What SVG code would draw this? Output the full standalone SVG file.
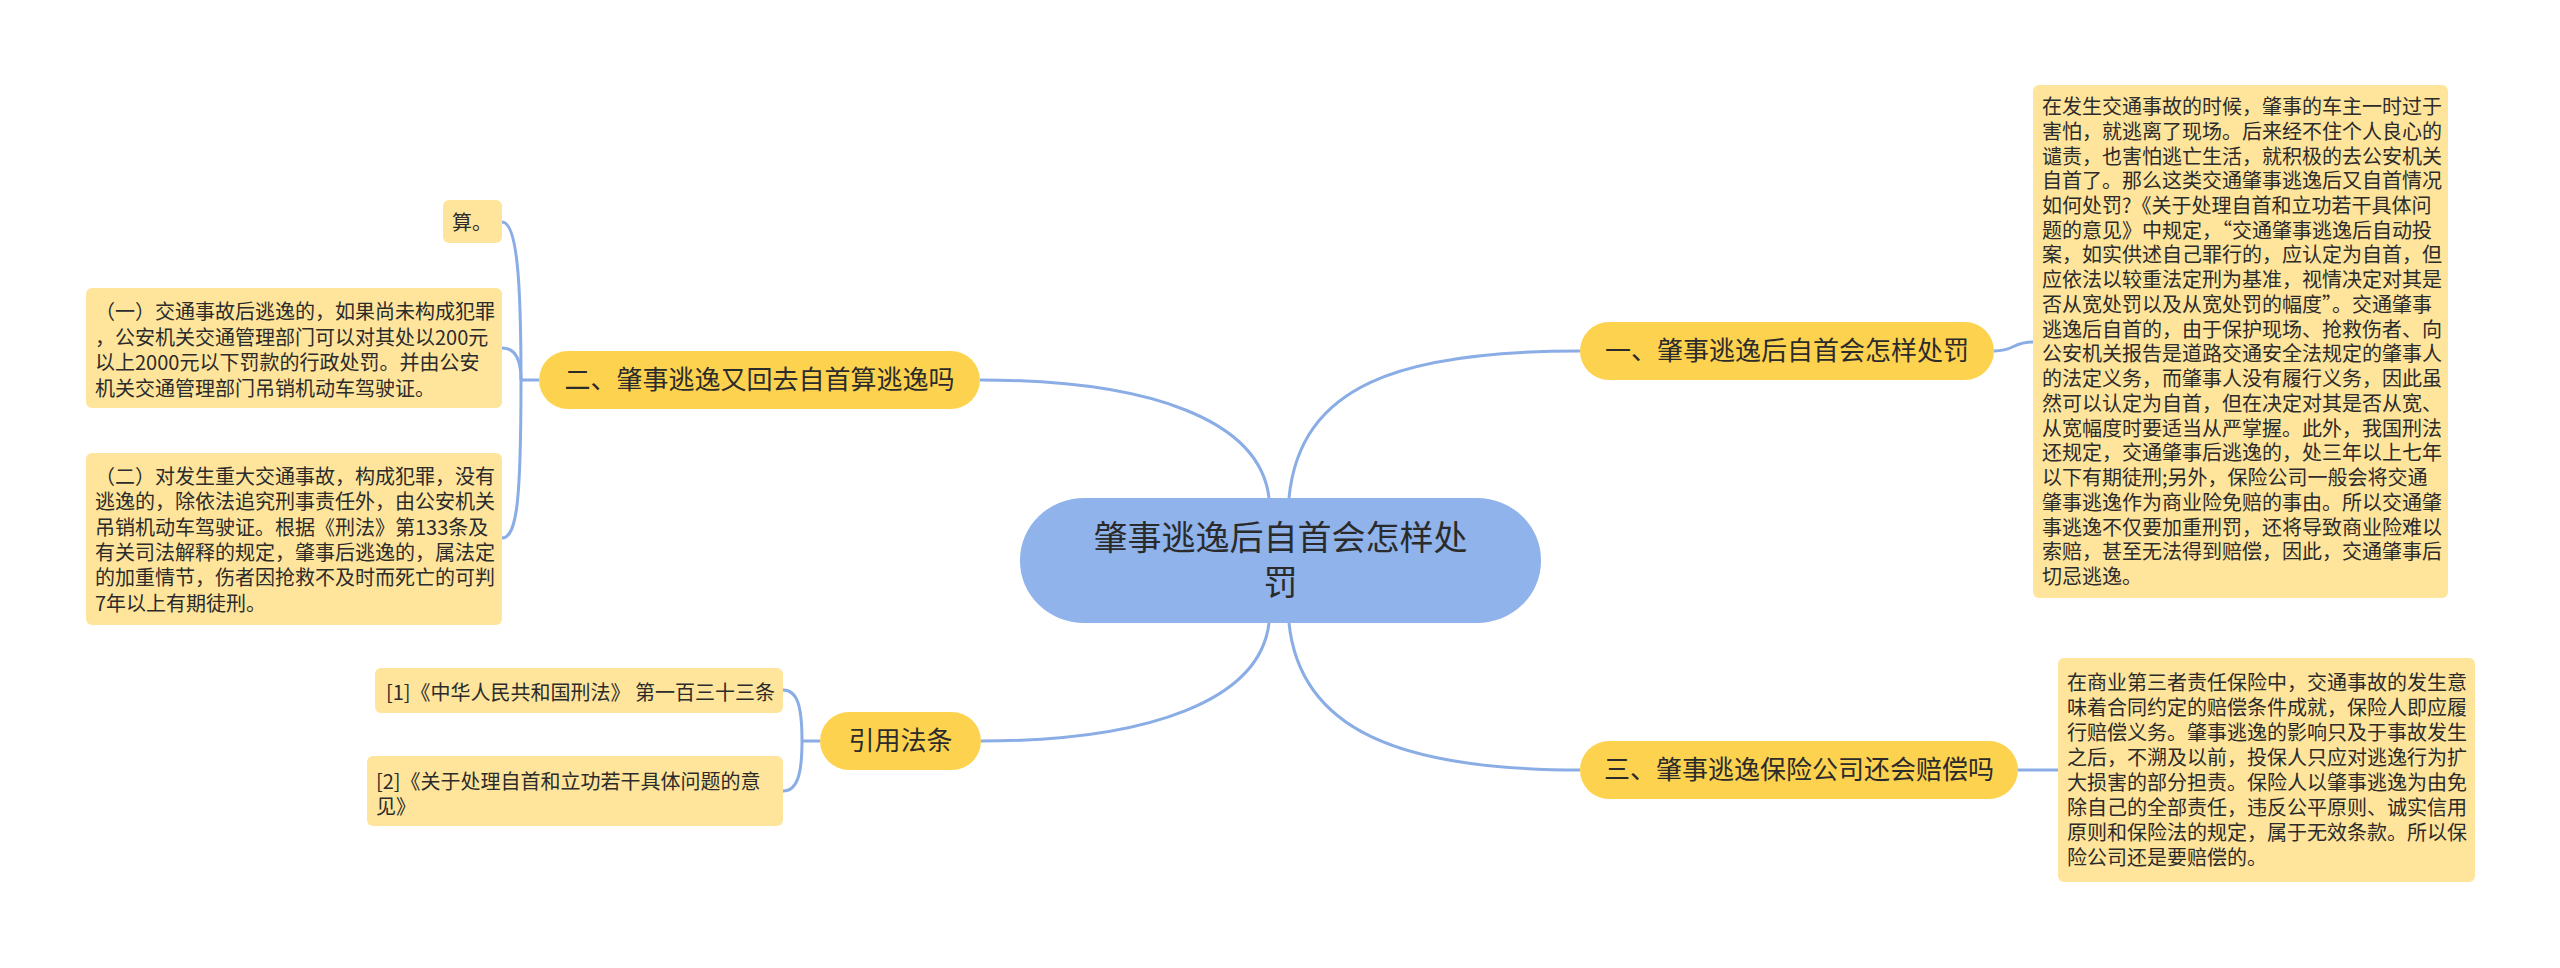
<svg xmlns="http://www.w3.org/2000/svg" width="2560" height="968" viewBox="0 0 2560 968">
<style>
text{font-family:"Noto Sans CJK SC","Noto Sans CJK TC",sans-serif;fill:#2b2b2b}
.c{stroke:#8aade6;stroke-width:3;fill:none}
.root{fill:#8fb3ea}
.l1{fill:#fdd24f}
.box{fill:#ffe59c}
.t34{font-size:34px}
.t26{font-size:26px}
.t20{font-size:20px}
</style>
<rect width="2560" height="968" fill="#ffffff"/>
<g id="connectors">
<path class="c" d="M1289,498 C1300,385 1400,351 1580,351"/>
<path class="c" d="M1269,498 C1260,420 1150,380 980,380"/>
<path class="c" d="M1269,623 C1260,700 1150,741 981,741"/>
<path class="c" d="M1289,623 C1300,730 1400,770 1580,770"/>
<path class="c" d="M1994,351 C2015,351 2012,342 2033,342"/>
<path class="c" d="M2018,770 L2058,770"/>
<path class="c" d="M539,380 L521,380"/>
<path class="c" d="M521,380 C521,280 517,222 502,222"/>
<path class="c" d="M521,380 C521,360 516,348 502,348"/>
<path class="c" d="M521,380 C521,500 517,538 502,538"/>
<path class="c" d="M820,741 L802,741"/>
<path class="c" d="M802,741 C802,705 797,690 783,690"/>
<path class="c" d="M802,741 C802,775 797,791 783,791"/>
</g>
<g id="root">
<rect class="root" x="1020" y="498" width="521" height="125" rx="64" ry="62"/>
<text class="t34" x="1280.5" y="550" text-anchor="middle">肇事逃逸后自首会怎样处</text>
<text class="t34" x="1280.5" y="595" text-anchor="middle">罚</text>
</g>
<g id="n1">
<rect class="l1" x="1580" y="322" width="414" height="58" rx="29"/>
<text class="t26" x="1787" y="360" text-anchor="middle">一、肇事逃逸后自首会怎样处罚</text>
</g>
<g id="n1-detail">
<rect class="box" x="2033" y="85" width="415" height="513" rx="6"/>
<text class="t20">
<tspan x="2042" y="114">在发生交通事故的时候，肇事的车主一时过于</tspan>
<tspan x="2042" y="138.7">害怕，就逃离了现场。后来经不住个人良心的</tspan>
<tspan x="2042" y="163.5">谴责，也害怕逃亡生活，就积极的去公安机关</tspan>
<tspan x="2042" y="188.2">自首了。那么这类交通肇事逃逸后又自首情况</tspan>
<tspan x="2042" y="213">如何处罚?《关于处理自首和立功若干具体问</tspan>
<tspan x="2042" y="237.7">题的意见》中规定，“交通肇事逃逸后自动投</tspan>
<tspan x="2042" y="262.4">案，如实供述自己罪行的，应认定为自首，但</tspan>
<tspan x="2042" y="287.2">应依法以较重法定刑为基准，视情决定对其是</tspan>
<tspan x="2042" y="311.9">否从宽处罚以及从宽处罚的幅度”。交通肇事</tspan>
<tspan x="2042" y="336.7">逃逸后自首的，由于保护现场、抢救伤者、向</tspan>
<tspan x="2042" y="361.4">公安机关报告是道路交通安全法规定的肇事人</tspan>
<tspan x="2042" y="386.1">的法定义务，而肇事人没有履行义务，因此虽</tspan>
<tspan x="2042" y="410.9">然可以认定为自首，但在决定对其是否从宽、</tspan>
<tspan x="2042" y="435.6">从宽幅度时要适当从严掌握。此外，我国刑法</tspan>
<tspan x="2042" y="460.4">还规定，交通肇事后逃逸的，处三年以上七年</tspan>
<tspan x="2042" y="485.1">以下有期徒刑;另外，保险公司一般会将交通</tspan>
<tspan x="2042" y="509.8">肇事逃逸作为商业险免赔的事由。所以交通肇</tspan>
<tspan x="2042" y="534.6">事逃逸不仅要加重刑罚，还将导致商业险难以</tspan>
<tspan x="2042" y="559.3">索赔，甚至无法得到赔偿，因此，交通肇事后</tspan>
<tspan x="2042" y="584">切忌逃逸。</tspan>
</text>
</g>
<g id="n3">
<rect class="l1" x="1580" y="741" width="438" height="58" rx="29"/>
<text class="t26" x="1799" y="779" text-anchor="middle">三、肇事逃逸保险公司还会赔偿吗</text>
</g>
<g id="n3-detail">
<rect class="box" x="2058" y="658" width="417" height="224" rx="6"/>
<text class="t20">
<tspan x="2067" y="690">在商业第三者责任保险中，交通事故的发生意</tspan>
<tspan x="2067" y="715">味着合同约定的赔偿条件成就，保险人即应履</tspan>
<tspan x="2067" y="740">行赔偿义务。肇事逃逸的影响只及于事故发生</tspan>
<tspan x="2067" y="765">之后，不溯及以前，投保人只应对逃逸行为扩</tspan>
<tspan x="2067" y="790">大损害的部分担责。保险人以肇事逃逸为由免</tspan>
<tspan x="2067" y="815">除自己的全部责任，违反公平原则、诚实信用</tspan>
<tspan x="2067" y="840">原则和保险法的规定，属于无效条款。所以保</tspan>
<tspan x="2067" y="865">险公司还是要赔偿的。</tspan>
</text>
</g>
<g id="n2">
<rect class="l1" x="539" y="351" width="441" height="58" rx="29"/>
<text class="t26" x="759.5" y="389" text-anchor="middle">二、肇事逃逸又回去自首算逃逸吗</text>
</g>
<g id="n2-a">
<rect class="box" x="443" y="200" width="59" height="43" rx="6"/>
<text class="t20" x="452" y="230">算。</text>
</g>
<g id="n2-b">
<rect class="box" x="86" y="288" width="416" height="120" rx="6"/>
<text class="t20">
<tspan x="95" y="319">（一）交通事故后逃逸的，如果尚未构成犯罪</tspan>
<tspan x="95" y="344.5">，公安机关交通管理部门可以对其处以200元</tspan>
<tspan x="95" y="370">以上2000元以下罚款的行政处罚。并由公安</tspan>
<tspan x="95" y="395.5">机关交通管理部门吊销机动车驾驶证。</tspan>
</text>
</g>
<g id="n2-c">
<rect class="box" x="86" y="453" width="416" height="172" rx="6"/>
<text class="t20">
<tspan x="95" y="484">（二）对发生重大交通事故，构成犯罪，没有</tspan>
<tspan x="95" y="509.3">逃逸的，除依法追究刑事责任外，由公安机关</tspan>
<tspan x="95" y="534.6">吊销机动车驾驶证。根据《刑法》第133条及</tspan>
<tspan x="95" y="559.9">有关司法解释的规定，肇事后逃逸的，属法定</tspan>
<tspan x="95" y="585.2">的加重情节，伤者因抢救不及时而死亡的可判</tspan>
<tspan x="95" y="610.5">7年以上有期徒刑。</tspan>
</text>
</g>
<g id="n4">
<rect class="l1" x="820" y="712" width="161" height="58" rx="29"/>
<text class="t26" x="900.5" y="750" text-anchor="middle">引用法条</text>
</g>
<g id="n4-a">
<rect class="box" x="375" y="668" width="408" height="45" rx="6"/>
<text class="t20" x="386" y="700">[1]《中华人民共和国刑法》 第一百三十三条</text>
</g>
<g id="n4-b">
<rect class="box" x="367" y="756" width="416" height="70" rx="6"/>
<text class="t20">
<tspan x="376" y="789">[2]《关于处理自首和立功若干具体问题的意</tspan>
<tspan x="376" y="814">见》</tspan>
</text>
</g>
</svg>
